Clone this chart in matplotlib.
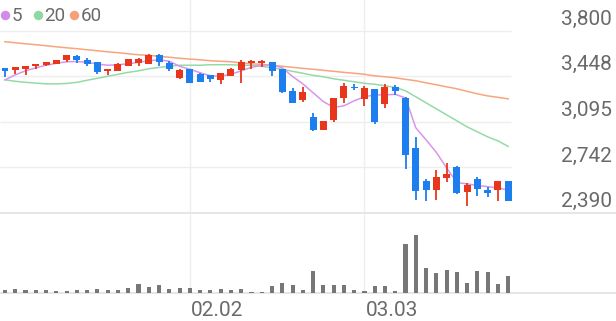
import numpy as np
import matplotlib
matplotlib.use("Agg")
import matplotlib.pyplot as plt

plt.rcParams['font.family'] = ['Roboto', 'DejaVu Sans']

# daily candles (KRW)
opens = [3510, 3500, 3503, 3529, 3537, 3544, 3570, 3606, 3575, 3557,
         3488, 3491, 3529, 3550, 3544, 3612, 3550, 3434, 3503, 3467,
         3454, 3417, 3451, 3494, 3550, 3550, 3557, 3503, 3335, 3262,
         3129, 3033, 3107, 3283, 3368, 3273, 3348, 3234, 3364, 3279,
         2896, 2638, 2568, 2664, 2744, 2550, 2656, 2568, 2568, 2638]
highs = [3515, 3522, 3526, 3544, 3557, 3577, 3614, 3612, 3591, 3560,
         3500, 3554, 3583, 3591, 3617, 3620, 3568, 3503, 3505, 3470,
         3457, 3475, 3510, 3575, 3575, 3575, 3560, 3505, 3358, 3364,
         3163, 3105, 3282, 3395, 3389, 3370, 3351, 3387, 3382, 3291,
         2981, 2653, 2723, 2775, 2754, 2622, 2667, 2589, 2640, 2640]
lows = [3445, 3467, 3459, 3503, 3524, 3539, 3560, 3547, 3524, 3469,
        3454, 3487, 3524, 3531, 3540, 3529, 3485, 3430, 3393, 3403,
        3401, 3389, 3446, 3397, 3506, 3519, 3446, 3322, 3238, 3245,
        3025, 3030, 3097, 3240, 3338, 3221, 3077, 3206, 3304, 2729,
        2491, 2485, 2491, 2633, 2540, 2444, 2522, 2512, 2485, 2483]
closes = [3485, 3520, 3524, 3542, 3555, 3575, 3612, 3570, 3539, 3480,
          3498, 3539, 3581, 3585, 3612, 3562, 3503, 3500, 3397, 3407,
          3426, 3472, 3503, 3560, 3557, 3557, 3485, 3327, 3242, 3327,
          3030, 3103, 3279, 3376, 3356, 3356, 3097, 3364, 3330, 2839,
          2560, 2568, 2671, 2692, 2547, 2607, 2575, 2543, 2638, 2485]

ma5 = [3420, 3459, 3490, 3513, 3533, 3548, 3560, 3562, 3556, 3542,
       3533, 3537, 3544, 3556, 3568, 3575, 3564, 3525, 3502, 3475,
       3451, 3448, 3463, 3490, 3517, 3533, 3537, 3513, 3446, 3389,
       3320, 3252, 3207, 3219, 3258, 3289, 3304, 3304, 3308, 3280,
       3049, 2956, 2859, 2739, 2626, 2615, 2603, 2594, 2584, 2568]
ma20 = [3420, 3409, 3401, 3395, 3389, 3389, 3392, 3401, 3417, 3432,
        3448, 3463, 3478, 3490, 3506, 3516, 3525, 3533, 3533, 3533,
        3537, 3537, 3537, 3533, 3533, 3525, 3513, 3502, 3486, 3471,
        3455, 3444, 3428, 3417, 3405, 3393, 3386, 3374, 3362, 3335,
        3289, 3242, 3196, 3149, 3103, 3056, 3018, 2979, 2948, 2905]
ma60 = [3715, 3707, 3699, 3692, 3684, 3676, 3668, 3661, 3653, 3645,
        3637, 3630, 3622, 3614, 3610, 3602, 3595, 3587, 3581, 3575,
        3568, 3564, 3560, 3552, 3544, 3540, 3533, 3525, 3517, 3509,
        3502, 3494, 3486, 3478, 3471, 3463, 3451, 3444, 3436, 3424,
        3413, 3397, 3382, 3366, 3351, 3331, 3312, 3296, 3285, 3273]

volume = [3.3, 3.7, 2.7, 2.7, 2.7, 2.0, 2.0, 3.0, 3.0, 4.3,
          3.0, 3.0, 5.0, 8.7, 6.0, 7.7, 4.0, 5.0, 5.3, 2.7,
          3.0, 4.0, 3.3, 3.7, 1.5, 1.3, 7.3, 10.3, 7.7, 3.3,
          22.0, 7.7, 7.7, 8.0, 3.0, 2.3, 7.0, 7.0, 2.3, 49.0,
          57.7, 25.3, 20.3, 22.7, 21.0, 10.3, 21.7, 21.0, 9.0, 17.3]

price_ticks = [3800, 3448, 3095, 2742, 2390]
price_labels = ["3,800", "3,448", "3,095", "2,742", "2,390"]
date_idx = [18, 35]
date_labels = ["02.02", "03.03"]

ma_names = ["5", "20", "60"]
ma_colors = ["#d796ea", "#95daa6", "#f7a57f"]
dot_colors = ["#cf8de8", "#8fd8a0", "#f5a07a"]

up_col = "#e8361c"
down_col = "#1d7ef0"
text_col = "#6a6a6a"
grid_col = "#eeeeee"
line_col = "#e2e2e2"

W, H = 616, 321
fig = plt.figure(figsize=(W / 100, H / 100), dpi=100)
fig.patch.set_facecolor("white")

step = 10.27
x0 = -5 / step
x1 = (W - 5) / step

ax = fig.add_axes([0, 1 - 213 / H, 1, 213 / H])
axv = fig.add_axes([0, 1 - 293 / H, 1, 80 / H])
for a in (ax, axv):
    a.set_xlim(x0, x1)
    a.axis("off")

per_px = (price_ticks[0] - price_ticks[1]) / 45.5
ax.set_ylim(price_ticks[-1], price_ticks[-1] + 213 * per_px)
axv.set_ylim(0, 80)

n = len(closes)
xs = np.arange(n)
grid_end = n - 1 + 3.2 / step

# grid
for v in price_ticks[:-1]:
    ax.hlines(v, x0, grid_end, color=grid_col, lw=1, zorder=0)
for d in date_idx:
    ax.axvline(d, color=grid_col, lw=1, zorder=0)
    axv.axvline(d, color=grid_col, lw=1, zorder=0)
ax.axhline(price_ticks[-1], color=line_col, lw=1.2, clip_on=False, zorder=0)
axv.axhline(0, color=line_col, lw=1.2, clip_on=False, zorder=0)

# moving averages
for ma, c in zip([ma60, ma20, ma5], [ma_colors[2], ma_colors[1], ma_colors[0]]):
    ax.plot(xs, ma, color=c, lw=1.1, zorder=2)

# candles
o = np.array(opens)
c = np.array(closes)
cols = [up_col if cc >= oo else down_col for oo, cc in zip(o, c)]
bottom = np.minimum(o, c)
height = np.maximum(np.abs(c - o), 1.6 * per_px)
ax.vlines(xs, lows, highs, colors=cols, lw=1.3, zorder=3)
ax.bar(xs, height, bottom=bottom, width=0.68, color=cols, zorder=4)

# volume
axv.bar(xs, volume, width=0.4, color="#777777", zorder=2)

# price labels
for v, lab in zip(price_ticks, price_labels):
    ax.annotate(lab, xy=(1, v), xycoords=("axes fraction", "data"),
                xytext=(-4, 6), textcoords="offset pixels",
                ha="right", va="baseline", fontsize=15, color=text_col)

# date labels
for d, lab in zip(date_idx, date_labels):
    axv.annotate(lab, xy=(d, 0), xycoords=("data", "axes fraction"),
                 xytext=(1, -23.5), textcoords="offset pixels",
                 ha="left", va="baseline", fontsize=15, color=text_col)

# legend
lx = [5, 38, 74]
for px, name, dc in zip(lx, ma_names, dot_colors):
    ax.plot(px / W, 1 - 15 / 213, "o", ms=6.8, color=dc, mec="none",
            transform=ax.transAxes, clip_on=False)
    ax.text((px + 6.5) / W, 1 - 21 / 213, name, transform=ax.transAxes,
            ha="left", va="baseline", fontsize=13.5, color=text_col)

fig.savefig("out.png", dpi=100, facecolor="white")
